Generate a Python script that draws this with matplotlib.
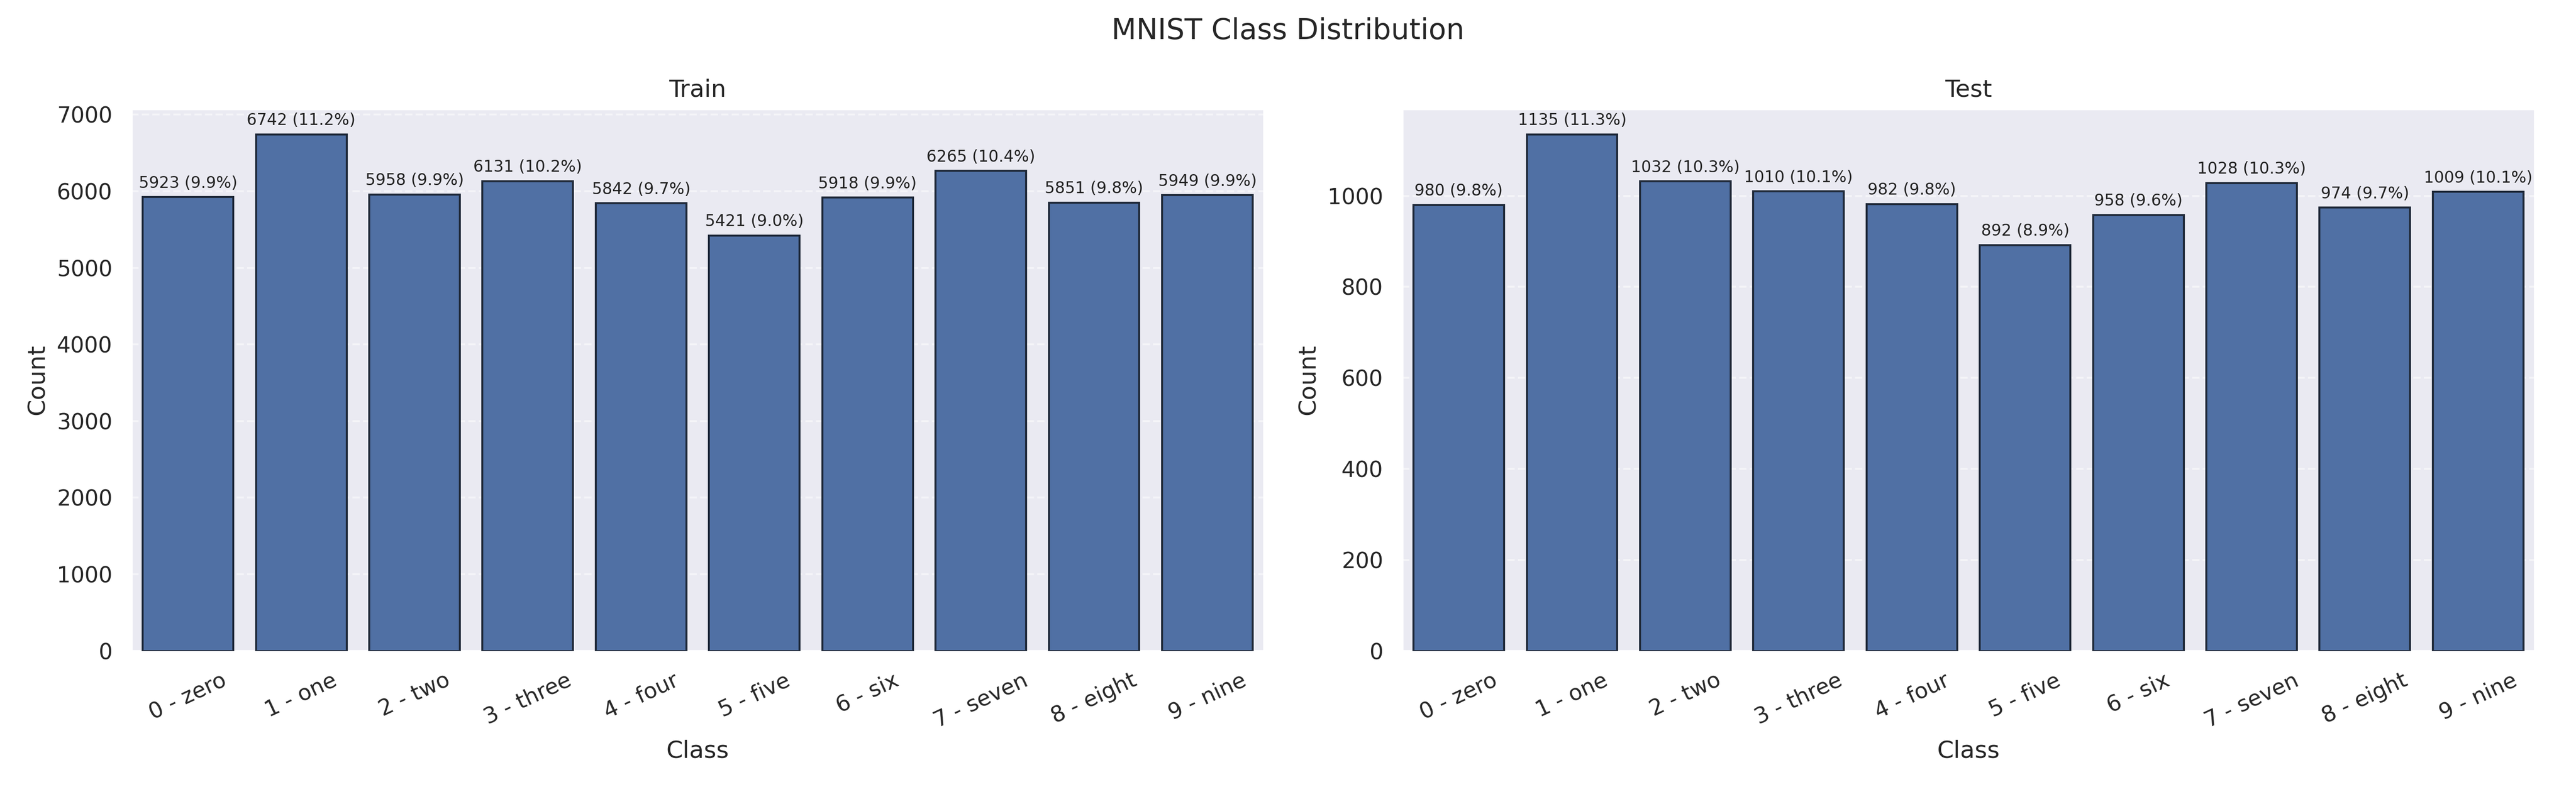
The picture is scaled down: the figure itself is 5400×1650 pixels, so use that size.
import matplotlib
matplotlib.use("Agg")
import matplotlib.pyplot as plt
import seaborn as sns
import numpy as np

class_labels = ["0 - zero", "1 - one", "2 - two", "3 - three", "4 - four",
                "5 - five", "6 - six", "7 - seven", "8 - eight", "9 - nine"]
train_counts = [5923, 6742, 5958, 6131, 5842, 5421, 5918, 6265, 5851, 5949]
test_counts = [980, 1135, 1032, 1010, 982, 892, 958, 1028, 974, 1009]
panel_titles = ["Train", "Test"]
suptitle = "MNIST Class Distribution"

sns.set_theme(style="darkgrid")
plt.rcParams['font.family'] = ['DejaVu Sans']

fig, axes = plt.subplots(1, 2, figsize=(18, 5.5), dpi=300)
fig.subplots_adjust(left=0.051, right=0.984, bottom=0.173, top=0.862, wspace=0.122)

for ax, counts, title in zip(axes, [train_counts, test_counts], panel_titles):
    x = np.arange(len(class_labels))
    ax.bar(x, counts, width=0.8, color="#5070a4", edgecolor="#1e2838",
           linewidth=1.0, zorder=3)
    total = sum(counts)
    for xi, c in zip(x, counts):
        ax.annotate(f"{c} ({100 * c / total:.1f}%)", (xi, c),
                    xytext=(0, 3), textcoords="offset points",
                    ha="center", va="bottom", fontsize=8, color="#222222")
    ax.set_xticks(x)
    ax.set_xticklabels(class_labels, rotation=25)
    ax.set_xlim(-0.5, len(class_labels) - 0.5)
    ax.set_ylim(0, max(counts) * 1.05)
    ax.grid(False)
    ax.grid(axis="y", linestyle="--", alpha=0.5, zorder=0)
    ax.set_axisbelow(True)
    ax.set_title(title, fontsize=12)
    ax.set_xlabel("Class", fontsize=12)
    ax.set_ylabel("Count", fontsize=12)

fig.suptitle(suptitle, fontsize=14.5, y=0.978)
fig.savefig("out.png", dpi=300)
